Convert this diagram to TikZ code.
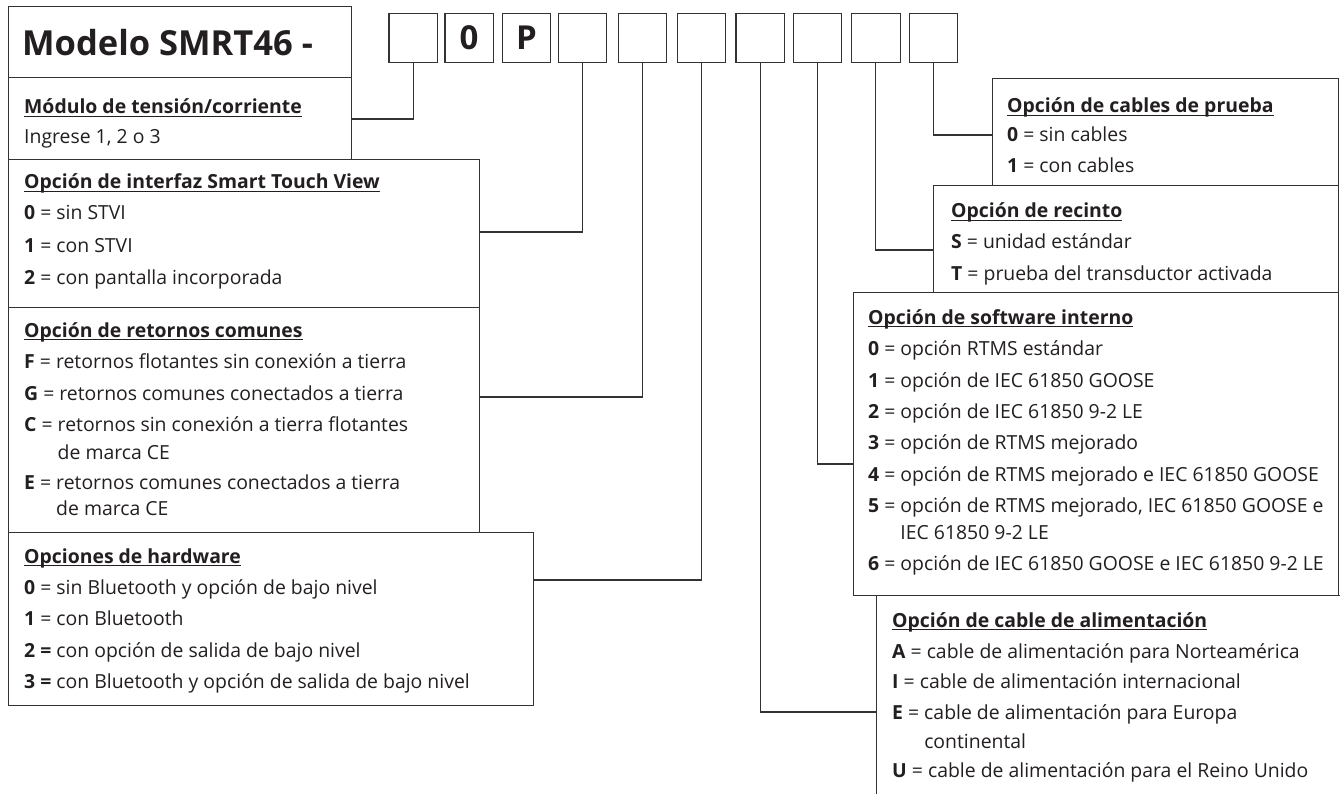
\documentclass[tikz,border=0pt]{standalone}
\usepackage{fontspec}
\setmainfont{Open Sans}
\newcommand{\ulhead}[1]{\setbox0\hbox{\bfseries #1}\rlap{\rule[-2.8pt]{\wd0}{1.1pt}}\box0}
\definecolor{linec}{HTML}{333333}
\definecolor{txtc}{HTML}{231F20}
\begin{document}
\begin{tikzpicture}[x=1pt,y=-1pt,
  frame/.style={draw=linec, line width=1.2pt, fill=white, inner sep=0pt, anchor=north west},
  codebox/.style={frame, minimum width=48.5pt, minimum height=48.4pt, font=\fontsize{33}{34}\selectfont\bfseries, text=txtc},
  lbl/.style={anchor=base west, inner sep=0pt, text=txtc, font=\fontsize{19.4}{21}\selectfont},
  conn/.style={draw=linec, line width=1.2pt}]
\useasboundingbox (0,0) rectangle (1340,794);
\clip (0,0) rectangle (1340,794);
% ---------- left column boxes
\node[frame, minimum width=343pt, minimum height=71pt] (title) at (8,6) {};
\node[frame, minimum width=343pt, minimum height=82pt] (mod) at (8,77) {};
\node[frame, minimum width=471pt, minimum height=148pt] (stvi) at (8,159) {};
\node[frame, minimum width=471pt, minimum height=225pt] (ret) at (8,307) {};
\node[frame, minimum width=525pt, minimum height=173pt] (hw) at (8,532) {};
% ---------- right column boxes
\node[frame, minimum width=345.5pt, minimum height=107pt] (cab) at (992,78) {};
\node[frame, minimum width=404.5pt, minimum height=107pt] (rec) at (933,185) {};
\node[frame, minimum width=484.5pt, minimum height=303pt] (sw) at (853,292) {};
\node[frame, minimum width=470pt, minimum height=210pt] (pw) at (876,595) {};
% ---------- code boxes
\node[codebox] (c1) at (388.3,13.3) {};
\node[codebox] (c2) at (444.3,13.3) {0};
\node[codebox] (c3) at (501.7,13.3) {P};
\node[codebox] (c4) at (557.7,13.3) {};
\node[codebox] (c5) at (617.7,13.3) {};
\node[codebox] (c6) at (676.7,13.3) {};
\node[codebox] (c7) at (735.3,13.3) {};
\node[codebox] (c8) at (792.7,13.3) {};
\node[codebox] (c9) at (851,13.3) {};
\node[codebox] (c10) at (908.7,13.3) {};
% ---------- connector ends
\coordinate (j1) at (351,119);
\coordinate (j4) at (479,232);
\coordinate (j5) at (479,397);
\coordinate (j6) at (533,580);
\coordinate (j7) at (876,712);
\coordinate (j8) at (853,464);
\coordinate (j9) at (933,250);
\coordinate (j10) at (992,135);
\draw[conn] (c1.south) |- (j1);
\draw[conn] (c4.south) |- (j4);
\draw[conn] (c5.south) |- (j5);
\draw[conn] (c6.south) |- (j6);
\draw[conn] (c7.south) |- (j7);
\draw[conn] (c8.south) |- (j8);
\draw[conn] (c9.south) |- (j9);
\draw[conn] (c10.south) |- (j10);
% ---------- title
\node[lbl, font=\fontsize{34.5}{36}\selectfont\bfseries] (tt) at (22,56) {Modelo SMRT46 -};
% ---------- module
\node[lbl] (m0) at (24,114) {\ulhead{Módulo de tensión/corriente}};
\node[lbl] (m1) at (24,144) {Ingrese 1, 2 o 3};
% ---------- STVI
\node[lbl] (s0) at (24,189) {\ulhead{Opción de interfaz Smart Touch View}};
\node[lbl] (s1) at (24,220) {\textbf{0} = sin STVI};
\node[lbl] (s2) at (24,252) {\textbf{1} = con STVI};
\node[lbl] (s3) at (24,284) {\textbf{2} = con pantalla incorporada};
% ---------- retornos
\node[lbl] (r0) at (24,337) {\ulhead{Opción de retornos comunes}};
\node[lbl] (r1) at (24,368) {\textbf{F} = retornos flotantes sin conexión a tierra};
\node[lbl] (r2) at (24,400) {\textbf{G} = retornos comunes conectados a tierra};
\node[lbl] (r3) at (24,431) {\textbf{C} = retornos sin conexión a tierra flotantes};
\node[lbl] (r3b) at (24,459) {\phantom{\textbf{C} = }de marca CE};
\node[lbl] (r4) at (24,489) {\textbf{E} = retornos comunes conectados a tierra};
\node[lbl] (r4b) at (24,515) {\phantom{\textbf{E} = }de marca CE};
% ---------- hardware
\node[lbl] (h0) at (24,563) {\ulhead{Opciones de hardware}};
\node[lbl] (h1) at (24,594) {\textbf{0} = sin Bluetooth y opción de bajo nivel};
\node[lbl] (h2) at (24,625) {\textbf{1} = con Bluetooth};
\node[lbl] (h3) at (24,657) {\textbf{2 =} con opción de salida de bajo nivel};
\node[lbl] (h4) at (24,688) {\textbf{3 =} con Bluetooth y opción de salida de bajo nivel};
% ---------- cables de prueba
\node[lbl] (k0) at (1007,113) {\ulhead{Opción de cables de prueba}};
\node[lbl] (k1) at (1007,142) {\textbf{0} = sin cables};
\node[lbl] (k2) at (1007,173) {\textbf{1} = con cables};
% ---------- recinto
\node[lbl] (e0) at (951,218) {\ulhead{Opción de recinto}};
\node[lbl] (e1) at (951,249) {\textbf{S} = unidad estándar};
\node[lbl] (e2) at (951,280) {\textbf{T} = prueba del transductor activada};
% ---------- software
\node[lbl] (w0) at (868,324) {\ulhead{Opción de software interno}};
\node[lbl] (w1) at (868,355) {\textbf{0} = opción RTMS estándar};
\node[lbl] (w2) at (868,387) {\textbf{1} = opción de IEC 61850 GOOSE};
\node[lbl] (w3) at (868,418) {\textbf{2} = opción de IEC 61850 9-2 LE};
\node[lbl] (w4) at (868,449) {\textbf{3} = opción de RTMS mejorado};
\node[lbl] (w5) at (868,481) {\textbf{4} = opción de RTMS mejorado e IEC 61850 GOOSE};
\node[lbl] (w6) at (868,512) {\textbf{5} = opción de RTMS mejorado, IEC 61850 GOOSE e};
\node[lbl] (w6b) at (868,539) {\phantom{\textbf{5} = }IEC 61850 9-2 LE};
\node[lbl] (w7) at (868,570) {\textbf{6} = opción de IEC 61850 GOOSE e IEC 61850 9-2 LE};
% ---------- power cable
\node[lbl] (p0) at (892,627) {\ulhead{Opción de cable de alimentación}};
\node[lbl] (p1) at (892,658) {\textbf{A} = cable de alimentación para Norteamérica};
\node[lbl] (p2) at (892,688) {\textbf{I} = cable de alimentación internacional};
\node[lbl] (p3) at (892,719) {\textbf{E} = cable de alimentación para Europa};
\node[lbl] (p3b) at (892,748) {\phantom{\textbf{E} = }continental};
\node[lbl] (p4) at (892,777) {\textbf{U} = cable de alimentación para el Reino Unido};
\end{tikzpicture}
\end{document}
